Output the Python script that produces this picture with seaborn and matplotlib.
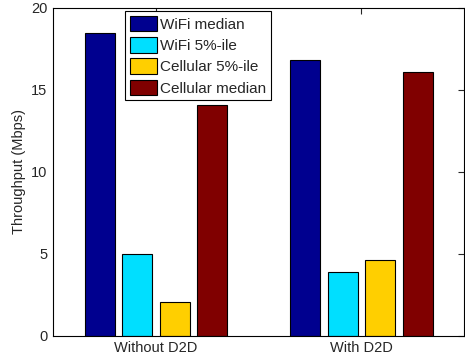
import matplotlib
matplotlib.use('Agg')
import matplotlib.pyplot as plt
import seaborn as sns
import pandas as pd

# values
scenarios = ['Without D2D', 'With D2D']
series = ['WiFi median', 'WiFi 5%-ile', 'Cellular 5%-ile', 'Cellular median']
wifi_median = [18.45, 16.8]
wifi_5 = [5.0, 3.9]
cell_5 = [2.05, 4.65]
cell_median = [14.1, 16.1]
colors = ['#00008F', '#00DFFF', '#FFCF00', '#800000']
yticks = [0, 5, 10, 15, 20]

sns.set_style('white')
plt.rcParams['font.family'] = ['Liberation Sans', 'DejaVu Sans']

rows = []
for name, vals in zip(series, [wifi_median, wifi_5, cell_5, cell_median]):
    for sc, v in zip(scenarios, vals):
        rows.append({'scenario': sc, 'series': name, 'value': v})
df = pd.DataFrame(rows)

fig = plt.figure(figsize=(4.65, 3.6), dpi=100)
ax = fig.add_axes([0.114, 0.067, 0.884, 0.911])

sns.barplot(data=df, x='scenario', y='value', hue='series', order=scenarios,
            hue_order=series, palette=colors, width=0.73, gap=0.2,
            edgecolor='black', linewidth=0.8, saturation=1, errorbar=None, ax=ax)

ax.set_xlim(-0.5, 1.5)
ax.set_ylim(0, 20)
ax.set_yticks(yticks)
ax.set_xlabel('')
ax.set_ylabel('Throughput (Mbps)', fontsize=10.5)
ax.tick_params(axis='both', direction='in', length=4, labelsize=10.5,
               top=True, right=True, pad=4)
for s in ax.spines.values():
    s.set_color('black')
    s.set_linewidth(0.8)

leg = ax.legend(loc='upper left', bbox_to_anchor=(0.176, 0.99), fontsize=11,
                frameon=True, fancybox=False, framealpha=1, edgecolor='black',
                handlelength=1.8, handleheight=1.2, handletextpad=0.2,
                labelspacing=0.35, borderpad=0.3, borderaxespad=0)
leg.get_frame().set_linewidth(0.8)

fig.savefig('out.png', dpi=100)
